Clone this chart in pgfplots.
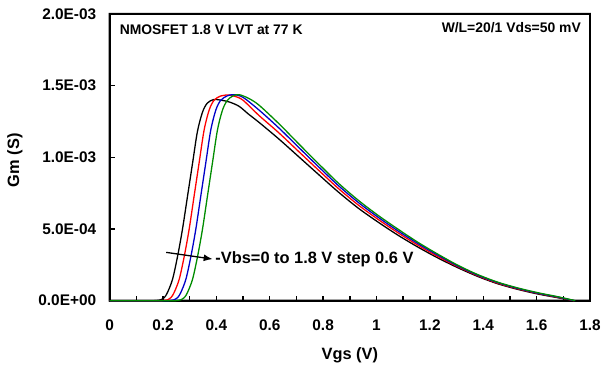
\documentclass[border=0pt]{standalone}
\usepackage{fontspec}
\setmainfont{Liberation Sans}
\usepackage{pgfplots}
\pgfplotsset{compat=1.18}
\usetikzlibrary{arrows.meta}
\definecolor{cblue}{RGB}{0,0,200}
\definecolor{cgreen}{RGB}{0,140,0}
\begin{document}
\begin{tikzpicture}
\path (-110bp,-69.3bp) (494bp,301.7bp);
\begin{axis}[
  at={(0,0)}, anchor=south west,
  scale only axis, width=482bp, height=287.7bp,
  xmin=0, xmax=1.8, ymin=0, ymax=0.002,
  xtick={0,0.2,0.4,0.6,0.8,1,1.2,1.4,1.6,1.8},
  xticklabels={\textbf{0},\textbf{0.2},\textbf{0.4},\textbf{0.6},\textbf{0.8},\textbf{1},\textbf{1.2},\textbf{1.4},\textbf{1.6},\textbf{1.8}},
  minor xtick={0.1,0.3,0.5,0.7,0.9,1.1,1.3,1.5,1.7},
  ytick={0,0.0005,0.001,0.0015,0.002},
  yticklabels={\textbf{0.0E+00},\textbf{5.0E-04},\textbf{1.0E-03},\textbf{1.5E-03},\textbf{2.0E-03}},
  scaled y ticks=false, scaled x ticks=false,
  tick align=inside, tick pos=left,
  major tick length=5pt, minor tick length=5pt,
  axis line style={draw=black, line width=1.8pt},
  major tick style={draw=black, line width=1.4pt},
  minor tick style={draw=black, line width=1.4pt},
  tick label style={font=\fontsize{15.5}{18}\selectfont\bfseries},
  xticklabel style={anchor=center, yshift=-25bp},
  yticklabel style={anchor=east, inner sep=0pt, xshift=-13.3bp},
  xlabel={Vgs (V)}, ylabel={Gm (S)},
  label style={font=\fontsize{16.5}{19}\selectfont\bfseries},
  xlabel style={at={(axis description cs:0.5,0)}, anchor=center, yshift=-55bp},
  ylabel style={at={(axis description cs:0,0.5)}, anchor=center, yshift=95bp, xshift=-3bp},
  clip=false,
  every axis plot/.append style={line width=1.3pt, no markers, smooth},
]
\fill[black, even odd rule] ([xshift=-1bp,yshift=-1bp]rel axis cs:0,0) rectangle ([xshift=1bp,yshift=1bp]rel axis cs:1,1)
  ([xshift=1bp,yshift=1bp]rel axis cs:0,0) rectangle ([xshift=-1bp,yshift=-1bp]rel axis cs:1,1);
% black: Vbs = 0
\addplot[black] coordinates {
(0,0) (0.15,0) (0.175,0.000001) (0.19,0.000005) (0.205,0.000022) (0.217,0.000058)
(0.236,0.000151) (0.255,0.000313) (0.273,0.000499) (0.292,0.000730) (0.311,0.000962)
(0.329,0.001180) (0.348,0.001315) (0.366,0.001378) (0.390,0.001403) (0.420,0.001398)
(0.450,0.001385) (0.485,0.001356) (0.520,0.001302) (0.559,0.001245) (0.634,0.001128)
(0.708,0.001005) (0.783,0.000880) (0.857,0.000758) (0.932,0.000645) (1.006,0.000548)
(1.082,0.000455) (1.157,0.000372) (1.232,0.000296) (1.307,0.000228) (1.382,0.000167)
(1.456,0.000117) (1.531,0.000078) (1.606,0.000046) (1.681,0.000020) (1.737,0)
};
% red: Vbs = -0.6
\addplot[red] coordinates {
(0,0) (0.175,0) (0.200,0.000001) (0.215,0.000005) (0.230,0.000022) (0.242,0.000058)
(0.261,0.000151) (0.280,0.000313) (0.298,0.000499) (0.317,0.000735) (0.336,0.000970)
(0.354,0.001190) (0.373,0.001330) (0.391,0.001397) (0.415,0.001427) (0.445,0.001435)
(0.470,0.001425) (0.500,0.001398) (0.559,0.001293) (0.634,0.001171) (0.708,0.001041)
(0.783,0.000910) (0.857,0.000783) (0.932,0.000667) (1.006,0.000567) (1.082,0.000472)
(1.157,0.000385) (1.232,0.000306) (1.307,0.000235) (1.382,0.000172) (1.456,0.000121)
(1.531,0.000082) (1.606,0.000050) (1.681,0.000023) (1.740,0)
};
% blue: Vbs = -1.2
\addplot[cblue] coordinates {
(0,0) (0.20,0) (0.225,0.000001) (0.240,0.000005) (0.255,0.000022) (0.267,0.000058)
(0.286,0.000151) (0.305,0.000313) (0.323,0.000499) (0.342,0.000735) (0.361,0.000970)
(0.379,0.001190) (0.398,0.001330) (0.416,0.001397) (0.440,0.001428) (0.465,0.001437)
(0.500,0.001418) (0.559,0.001331) (0.634,0.001205) (0.708,0.001070) (0.783,0.000934)
(0.857,0.000803) (0.932,0.000685) (1.006,0.000582) (1.082,0.000485) (1.157,0.000396)
(1.232,0.000315) (1.307,0.000240) (1.382,0.000176) (1.456,0.000125) (1.531,0.000085)
(1.606,0.000052) (1.681,0.000025) (1.742,0)
};
% green: Vbs = -1.8
\addplot[cgreen] coordinates {
(0,0) (0.225,0) (0.250,0.000001) (0.265,0.000005) (0.280,0.000022) (0.292,0.000058)
(0.311,0.000151) (0.330,0.000313) (0.348,0.000499) (0.367,0.000735) (0.386,0.000970)
(0.404,0.001190) (0.423,0.001330) (0.441,0.001397) (0.462,0.001428) (0.485,0.001437)
(0.520,0.001412) (0.559,0.001365) (0.634,0.001235) (0.708,0.001095) (0.783,0.000955)
(0.857,0.000820) (0.932,0.000700) (1.006,0.000595) (1.082,0.000497) (1.157,0.000405)
(1.232,0.000322) (1.307,0.000245) (1.382,0.000180) (1.456,0.000128) (1.531,0.000088)
(1.606,0.000055) (1.681,0.000027) (1.745,0)
};
\draw[black, line width=1.3pt, -{Latex[length=9bp,width=7bp]}] (axis cs:0.212,0.000337) -- (axis cs:0.386,0.000290);
\node[anchor=west, inner sep=1bp, font=\fontsize{16.5}{19}\selectfont\bfseries] at (axis cs:0.392,0.000288) {-Vbs=0 to 1.8 V step 0.6 V};
\node[anchor=west, inner sep=0pt, font=\fontsize{14}{16}\selectfont\bfseries] at ([xshift=10bp,yshift=-16bp]rel axis cs:0,1) {NMOSFET 1.8 V LVT at 77 K};
\node[anchor=east, inner sep=0pt, font=\fontsize{14}{16}\selectfont\bfseries] at ([xshift=-9bp,yshift=-14bp]rel axis cs:1,1) {W/L=20/1 Vds=50 mV};
\end{axis}
\end{tikzpicture}
\end{document}
